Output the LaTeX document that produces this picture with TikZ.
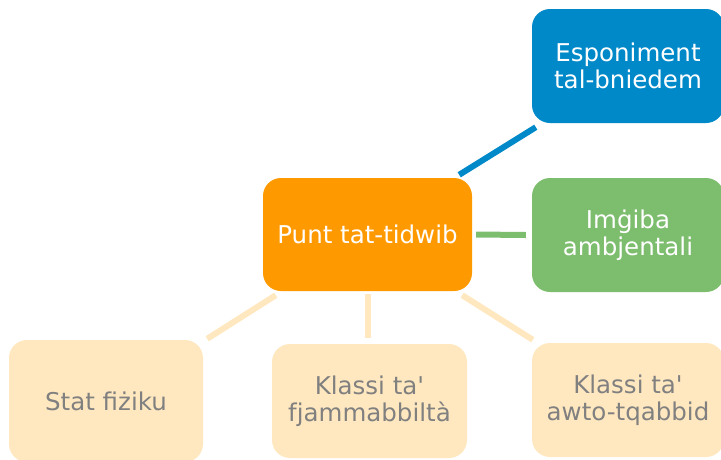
\documentclass[tikz,border=0pt]{standalone}
\usepackage{fontspec}
\setmainfont{DejaVu Sans}
\definecolor{corange}{RGB}{255,153,0}
\definecolor{cblue}{RGB}{0,137,201}
\definecolor{cgreen}{RGB}{125,189,110}
\definecolor{clight}{RGB}{255,232,192}
\definecolor{cgray}{RGB}{128,128,128}
\begin{document}
\begin{tikzpicture}[x=1pt,y=-1pt,
  box/.style={rectangle,rounded corners=18pt,inner sep=0pt,align=center,
    font=\fontsize{24.5}{26.5}\selectfont},
  topbox/.style={box,text=white},
  lowbox/.style={box,fill=clight,text=cgray},
  link/.style={line width=6pt}]
\useasboundingbox (0,0) rectangle (721,459);
\node[topbox,fill=corange,minimum width=209pt,minimum height=113pt] (c) at (367.5,234.5) {Punt tat-tidwib};
\node[topbox,fill=cblue,minimum width=192pt,minimum height=114pt] (b) at (628,66) {Esponiment\\tal-bniedem};
\node[topbox,fill=cgreen,minimum width=192pt,minimum height=114pt] (g) at (628,235) {Imġiba\\ambjentali};
\node[lowbox,minimum width=194pt,minimum height=122pt] (l) at (106,401) {Stat fiżiku};
\node[lowbox,minimum width=195pt,minimum height=114pt] (m) at (369.5,401) {Klassi ta\textquotesingle\\fjammabbiltà};
\node[lowbox,minimum width=192pt,minimum height=114pt] (r) at (628,400) {Klassi ta\textquotesingle\\awto-tqabbid};
\draw[link,cblue] ([shift={(-13,-3)}]c.north east) -- ([shift={(4,4)}]b.south west);
\draw[link,cgreen] ([shift={(4,0)}]c.east) -- ([shift={(-6,0)}]g.west);
\draw[link,clight] ([shift={(13,4)}]c.south west) -- ([shift={(4,-1)}]l.north east);
\draw[link,clight] ([shift={(0.5,3)}]c.south) -- ([shift={(-1.5,-6)}]m.north);
\draw[link,clight] ([shift={(-10,4)}]c.south east) -- ([shift={(1,-3)}]r.north west);
\end{tikzpicture}
\end{document}
